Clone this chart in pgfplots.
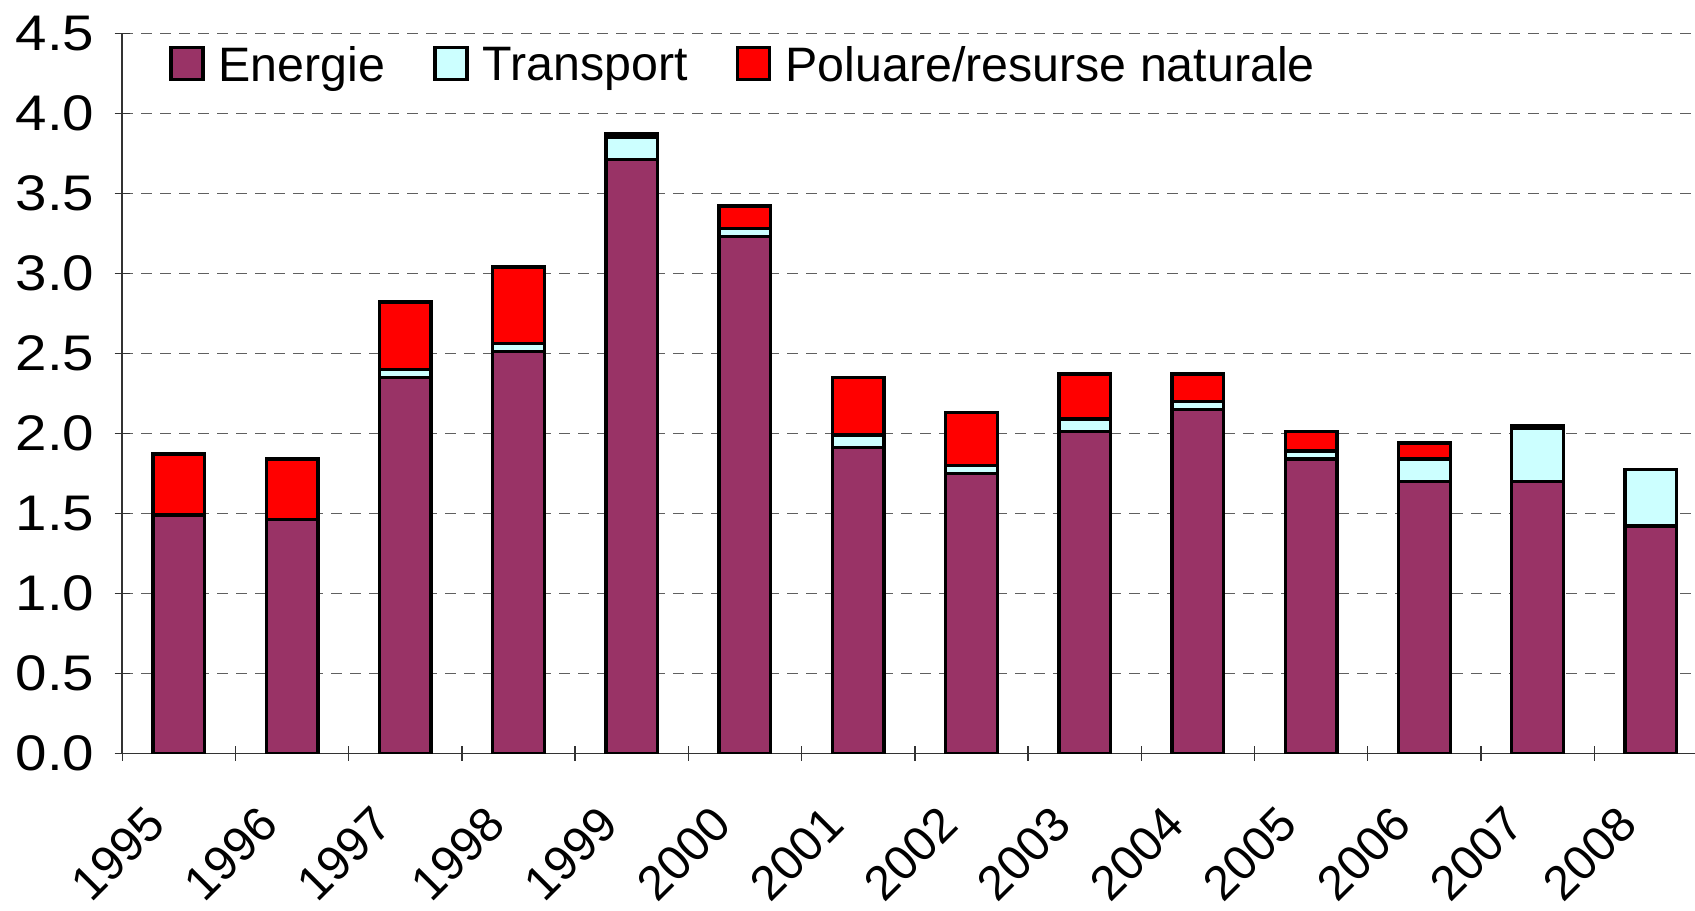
\documentclass[border=0pt]{standalone}
\usepackage{fontspec}
\setmainfont{Liberation Sans}
\newfontfamily\tickfont[FakeStretch=1.13]{Liberation Sans}
\usepackage{pgfplots}
\pgfplotsset{compat=1.18}
\definecolor{energie}{HTML}{993366}
\definecolor{transp}{HTML}{CCFFFF}
\definecolor{polu}{HTML}{FF0000}
\definecolor{gridc}{HTML}{606060}
\newcommand{\fs}{\fontsize{14.5}{17}\selectfont}
\newcommand{\fy}{\tickfont\fontsize{15}{18}\selectfont}
\begin{document}
\begin{tikzpicture}
\begin{axis}[
  at={(0,0)}, anchor=south west,
  scale only axis,
  width=471.84pt, height=216pt,
  ybar stacked,
  bar width=15.5pt,
  xmin=-0.5, xmax=13.39,
  ymin=0, ymax=4.5,
  ytick={0,0.5,...,4.5},
  /pgf/number format/fixed,
  /pgf/number format/fixed zerofill,
  /pgf/number format/precision=1,
  /pgf/number format/assume math mode=true,
  yticklabel style={font=\fy, inner sep=0pt, xshift=-5.9pt},
  xtick={-0.5,0.5,...,12.5},
  xticklabels={},
  extra x ticks={0,1,2,3,4,5,6,7,8,9,10,11,12,13},
  extra x tick labels={1995,1996,1997,1998,1999,2000,2001,2002,2003,2004,2005,2006,2007,2008},
  extra x tick style={major tick length=0pt, grid=none,
    tick label style={font=\fs, rotate=45, anchor=north east, inner sep=0pt, xshift=-17.9pt, yshift=-3pt}},
  tick align=outside,
  major tick length=4.5pt,
  tick style={black!80, line width=0.4pt},
  axis x line=bottom, axis y line=left,
  axis line style={-, black!80, line width=0.5pt},
  ymajorgrids=true,
  xmajorgrids=false,
  grid style={gridc, line width=0.45pt, dash pattern=on 3.3pt off 2.4pt},
  legend columns=-1,
  legend style={at={(axis description cs:0,1)}, anchor=west, xshift=6.9pt, yshift=-9.8pt,
    draw=none, fill=white, inner xsep=7pt, inner ysep=2pt, font=\fs,
    nodes={inner sep=0pt},
    /tikz/every odd column/.style={column sep=4.2pt},
    /tikz/every even column/.style={column sep=14.5pt}},
  legend image code/.code={\draw[#1, line width=1pt] (0pt,-4.1pt) rectangle (9.6pt,5.5pt);},
  every axis plot/.append style={draw=black, line width=1pt},
]
\addplot[fill=energie] coordinates {(0,1.49) (1,1.46) (2,2.35) (3,2.51) (4,3.71) (5,3.23) (6,1.91) (7,1.75) (8,2.01) (9,2.15) (10,1.84) (11,1.70) (12,1.70) (13,1.42)};
\addplot[fill=transp] coordinates {(0,0) (1,0) (2,0.05) (3,0.05) (4,0.14) (5,0.05) (6,0.08) (7,0.05) (8,0.08) (9,0.05) (10,0.05) (11,0.14) (12,0.33) (13,0.355)};
\addplot[fill=polu] coordinates {(0,0.38) (1,0.38) (2,0.42) (3,0.48) (4,0.02) (5,0.14) (6,0.36) (7,0.33) (8,0.28) (9,0.17) (10,0.12) (11,0.10) (12,0.02) (13,0)};
\legend{Energie, Transport, Poluare/resurse naturale}
\end{axis}
\pgfresetboundingbox
\path (-36.66pt,-47pt) rectangle (471.84pt,226pt);
\end{tikzpicture}
\end{document}
